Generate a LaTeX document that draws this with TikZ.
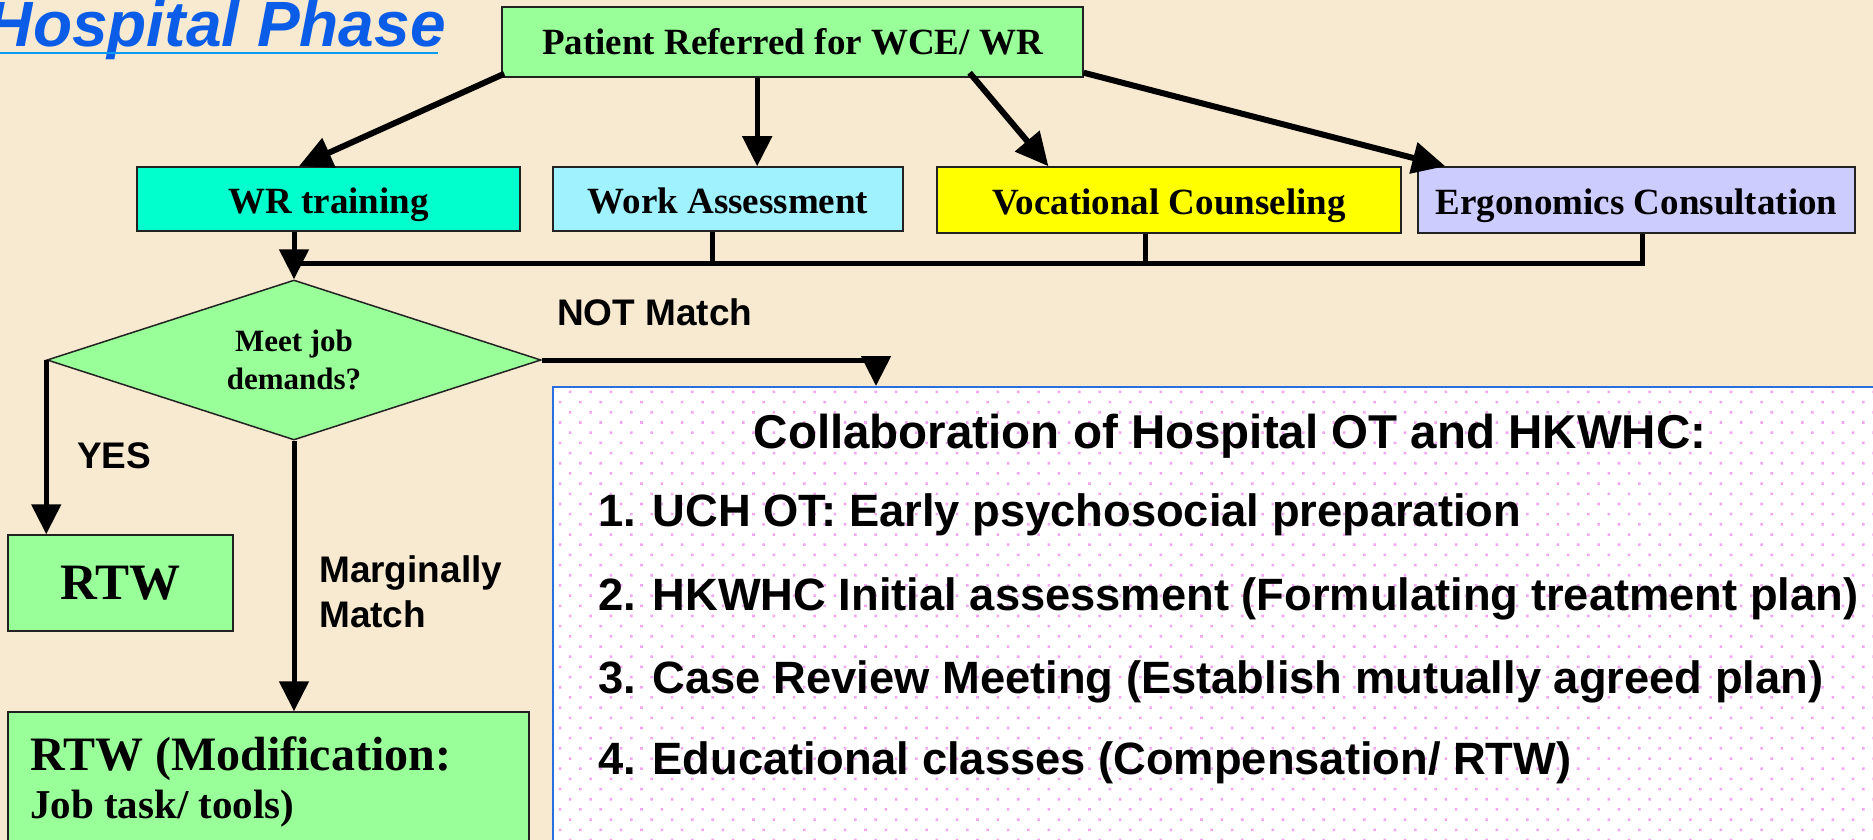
\documentclass[tikz,border=0pt]{standalone}
\usepackage{fontspec}
\setmainfont{Liberation Serif}
\newfontfamily\arialfont{Liberation Sans}
\usetikzlibrary{arrows.meta,shapes.geometric,calc,patterns.meta}

\definecolor{parchment}{HTML}{F8EAD0}
\definecolor{mint}{HTML}{99FF99}
\definecolor{aqua}{HTML}{00FFCC}
\definecolor{skyc}{HTML}{A0F2FF}
\definecolor{lemon}{HTML}{FFFF00}
\definecolor{lavender}{HTML}{CCCCFF}
\definecolor{titleblue}{HTML}{0B5CE6}
\definecolor{ruleblue}{HTML}{0A9BF5}
\definecolor{frameblue}{HTML}{2A6FE0}
\definecolor{dotpink}{HTML}{F2A6F2}
\definecolor{edge}{HTML}{222222}

\tikzset{
  stepbox/.style={draw=edge, line width=1.5pt, inner sep=0pt,
    font=\fontsize{37}{44}\selectfont\bfseries},
  service/.style={stepbox, text height=30pt, text depth=1pt},
  arr/.style={line width=5pt, -{Triangle[length=30pt,width=29pt]}},
  darr/.style={line width=6pt, -{Triangle[length=33pt,width=31pt]}},
  bus/.style={line width=5pt, line join=miter},
  lbl/.style={inner sep=0pt, anchor=base west,
    font=\arialfont\bfseries\fontsize{37}{44}\selectfont},
  item/.style={inner sep=0pt, anchor=base west,
    font=\arialfont\bfseries\fontsize{45.3}{52}\selectfont},
}

\begin{document}
\begin{tikzpicture}[x=1pt,y=-1pt]
\useasboundingbox (0,0) rectangle (1873,840);
\clip (0,0) rectangle (1873,840);
\fill[parchment] (0,0) rectangle (1873,840);

% heading
\node[inner sep=0pt, anchor=base east, text=titleblue,
  font=\arialfont\bfseries\itshape\fontsize{64}{70}\selectfont] (heading) at (446,47) {Hospital Phase};
\draw[ruleblue, line width=2.5pt] (0,53) -- (438,53);

% referral and the four services
\node[stepbox, fill=mint, minimum width=581pt, minimum height=70pt] (patient) at (792.5,42) {Patient Referred for WCE/ WR};
\node[service, fill=aqua, minimum width=383pt, minimum height=64pt] (wr) at (328.5,199) {WR training};
\node[service, fill=skyc, minimum width=350pt, minimum height=64pt] (wa) at (728,199) {Work Assessment};
\node[service, fill=lemon, minimum width=464pt, minimum height=66pt] (voc) at (1169,200) {Vocational Counseling};
\node[service, fill=lavender, minimum width=437pt, minimum height=66pt] (ergo) at (1636.5,200) {Ergonomics Consultation};

% decision
\node[diamond, draw=edge, line width=1.5pt, fill=mint, minimum width=494pt, minimum height=160pt,
  aspect=3.09, inner sep=0pt, align=center,
  font=\fontsize{31}{38}\selectfont\bfseries] (decide) at (294,360) {Meet job\\demands?};

% outcomes
\node[stepbox, fill=mint, minimum width=225pt, minimum height=96pt,
  font=\fontsize{51}{56}\selectfont\bfseries] (rtw) at (120.5,583) {RTW};
\node[draw=edge, line width=1.5pt, fill=mint, minimum width=521pt, minimum height=188pt, inner sep=0pt] (rtwmod) at (268.5,806) {};
\node[inner sep=0pt, anchor=base west, font=\fontsize{48}{52}\selectfont\bfseries] (rtwmodA) at (30,770) {RTW (Modification:};
\node[inner sep=0pt, anchor=base west, font=\fontsize{41}{46}\selectfont\bfseries] (rtwmodB) at (30,818) {Job task/ tools)};

% collaboration panel
\node[draw=frameblue, line width=2pt, fill=white, minimum width=1354pt, minimum height=513pt, inner sep=0pt,
  postaction={pattern={Dots[distance=14.4pt,angle=45,radius=1.8pt]}, pattern color=dotpink}] (collab) at (1230,643.5) {};
\node[inner sep=0pt, anchor=base, font=\arialfont\bfseries\fontsize{47.5}{52}\selectfont] (ctitle) at (1230,448) {Collaboration of Hospital OT and HKWHC:};
\node[item] (c1) at (598,526) {1. UCH OT: Early psychosocial preparation};
\node[item] (c2) at (598,610) {2. HKWHC Initial assessment (Formulating treatment plan)};
\node[item] (c3) at (598,693) {3. Case Review Meeting (Establish mutually agreed plan)};
\node[item] (c4) at (598,774) {4. Educational classes (Compensation/ RTW)};

% referral arrows
\coordinate (waT) at ($(wa.north west)!0.583!(wa.north east)$);
\draw[darr] ($(patient.south west)+(3,-4)$) -- ($(wr.north west)!0.423!(wr.north east)$);
\draw[arr] (waT |- patient.south) -- (waT);
\draw[darr] ($(patient.south west)!0.804!(patient.south east)+(0,-5)$) -- ($(voc.north west)!0.241!(voc.north east)$);
\draw[darr] ($(patient.south east)+(0,-5)$) -- ($(ergo.north west)!0.064!(ergo.north east)$);

% services gathered into the decision
\coordinate (busy) at (0,263);
\coordinate (waS) at ($(wa.south west)!0.457!(wa.south east)$);
\coordinate (vocS) at ($(voc.south west)!0.45!(voc.south east)$);
\coordinate (ergS) at ($(ergo.south west)!0.513!(ergo.south east)$);
\draw[bus] (decide.north |- busy) -- (ergS |- busy) -- (ergS);
\draw[bus] (waS) -- (waS |- busy);
\draw[bus] (vocS) -- (vocS |- busy);
\draw[arr] (decide.north |- wr.south) -- (decide.north);

% decision outcomes
\coordinate (nmT) at ($(collab.north west)+(324,0)$);
\draw[arr] (decide.west) -- (decide.west |- rtw.north);
\draw[arr] (decide.south) -- (decide.south |- rtwmod.north);
\draw[arr] (decide.east) -- (decide.east -| nmT) -- (nmT);

% branch labels
\node[lbl] (lnot) at (557,325) {NOT Match};
\node[lbl] (lyes) at (77,468) {YES};
\node[lbl] (lmarg) at (319,582) {Marginally};
\node[lbl] (lmatch) at (319,627) {Match};
\end{tikzpicture}
\end{document}
